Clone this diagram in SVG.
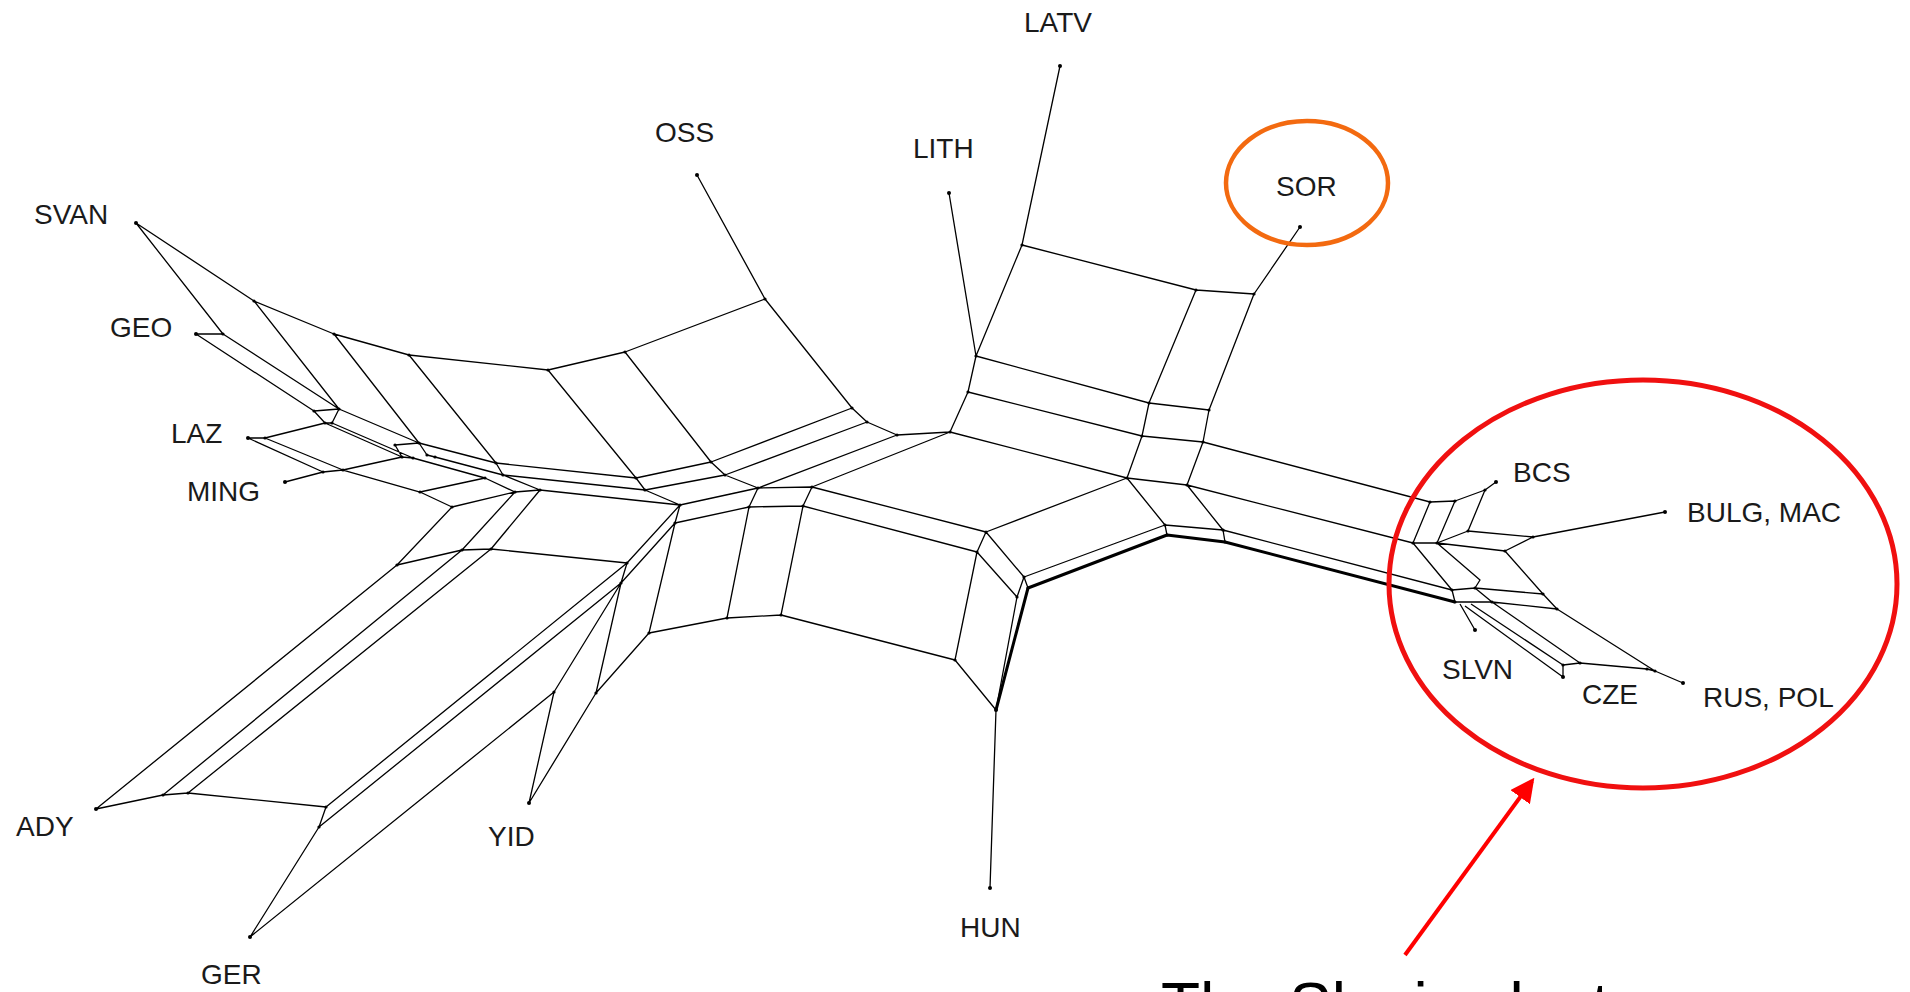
<svg xmlns="http://www.w3.org/2000/svg" width="1910" height="992" viewBox="0 0 1910 992">
<defs>
<style>
.e{fill:none;stroke:#000;stroke-width:1.3;stroke-linejoin:round}
.th{fill:none;stroke:#000;stroke-width:3;stroke-linejoin:round}
.lb{font-family:"Liberation Sans",Arial,sans-serif;font-size:28px;fill:#1a1a1a}
.d{fill:#000}
</style>
<marker id="ah" markerWidth="6" markerHeight="6" refX="5" refY="3" orient="auto" markerUnits="strokeWidth">
<path d="M0 0L6 3L0 6Z" fill="#ff0000"/>
</marker>
</defs>
<rect width="1910" height="992" fill="#fff"/>
<g id="connectors">
<path class="e" d="M136 223L254 301L334 334L409 355L548 370L625 352L765 299L697 175
M136 223L223 334M196 334L223 334
M254 301L339 409M223 334L339 409M196 334L314 411L339 409
M314 411L325 423L332 423L339 409
M334 334L419 443M339 409L419 443
M248 438L265 438L325 423L402 457L413 458L332 423
M395 445L419 443L427 455L435 457M395 445L402 457
M248 438L323 472M265 438L343 470M285 482L323 472L343 470
M343 470L402 457M343 470L420 492L452 507
M409 355L496 463M419 443L496 463L503 475M435 457L503 475
M413 458L485 478L515 492M420 492L485 478M452 507L515 492L540 490M503 475L540 490
M548 370L636 478M496 463L636 478L645 490M503 475L645 490
M625 352L711 462M636 478L711 462L725 475M645 490L725 475
M765 299L852 408M711 462L852 408L867 422M725 475L867 422
M540 490L680 505M645 490L680 505L758 488M725 475L758 488M758 488L897 435M867 422L897 435L950 432M758 488L812 487L950 432
M680 505L675 523L749 507L803 506L977 552M758 488L749 507M812 487L803 506M812 487L986 532L977 552M950 432L1127 478L986 532
M452 507L397 565M515 492L462 550M540 490L491 549M680 505L627 563M675 523L621 583
M397 565L462 550L491 549L627 563L621 583
M96 809L397 565M163 795L462 550M188 793L491 549M326 807L627 563M319 827L621 583
M96 809L163 795L188 793L326 807L319 827L250 937L554 692L621 583L596 693L529 803L554 692
M596 693L649 633L675 523
M749 507L727 618M803 506L781 615M977 552L955 660
M649 633L727 618L781 615L955 660L996 710
M977 552L1017 597L996 710M986 532L1024 577L1017 597M1024 577L1165 525M1127 478L1165 525
M996 710L990 888
M950 432L968 392L976 356L949 193M976 356L1022 245L1060 66
M1022 245L1196 290L1254 294L1300 227M1196 290L1149 403M1254 294L1209 410
M976 356L1149 403L1209 410M968 392L1142 436L1203 442M1149 403L1142 436M1209 410L1203 442
M1142 436L1127 478L1187 485M1203 442L1187 485L1223 530M1165 525L1223 530M1165 525L1167 535M1223 530L1225 542
M1203 442L1430 502M1187 485L1413 543M1223 530L1452 590
M1024 577L1028 588
M1430 502L1455 501L1485 490L1496 482
M1430 502L1413 543L1437 543L1468 531L1485 490M1455 501L1437 543
M1468 531L1533 537L1665 512M1437 543L1505 551L1533 537
M1413 543L1452 590L1475 588L1543 594L1505 551M1437 543L1480 580L1475 588
M1452 590L1455 602M1475 588L1492 602M1543 594L1557 609
M1455 602L1492 602L1557 609L1655 671L1683 683
M1492 602L1580 663M1471 604L1563 665M1465 606L1563 677M1563 665L1563 677M1563 665L1580 663L1647 669L1655 671
M1460 604L1475 630"/>
<path class="th" d="M1455 602L1225 542L1167 535L1028 588L996 710"/>
<g class="d">
<circle cx="254" cy="301" r="1.6"/><circle cx="334" cy="334" r="1.6"/><circle cx="409" cy="355" r="1.6"/><circle cx="548" cy="370" r="1.6"/><circle cx="625" cy="352" r="1.6"/><circle cx="765" cy="299" r="1.6"/>
<circle cx="223" cy="334" r="1.6"/><circle cx="314" cy="411" r="1.6"/><circle cx="339" cy="409" r="1.6"/><circle cx="325" cy="423" r="1.6"/><circle cx="332" cy="423" r="1.6"/>
<circle cx="265" cy="438" r="1.6"/><circle cx="323" cy="472" r="1.6"/><circle cx="343" cy="470" r="1.6"/>
<circle cx="395" cy="445" r="1.6"/><circle cx="419" cy="443" r="1.6"/><circle cx="427" cy="455" r="1.6"/><circle cx="402" cy="457" r="1.6"/><circle cx="413" cy="458" r="1.6"/><circle cx="435" cy="457" r="1.6"/>
<circle cx="420" cy="492" r="1.6"/><circle cx="452" cy="507" r="1.6"/><circle cx="496" cy="463" r="1.6"/><circle cx="503" cy="475" r="1.6"/><circle cx="485" cy="478" r="1.6"/><circle cx="515" cy="492" r="1.6"/><circle cx="540" cy="490" r="1.6"/>
<circle cx="636" cy="478" r="1.6"/><circle cx="645" cy="490" r="1.6"/><circle cx="711" cy="462" r="1.6"/><circle cx="725" cy="475" r="1.6"/><circle cx="852" cy="408" r="1.6"/><circle cx="867" cy="422" r="1.6"/>
<circle cx="680" cy="505" r="1.6"/><circle cx="758" cy="488" r="1.6"/><circle cx="897" cy="435" r="1.6"/><circle cx="812" cy="487" r="1.6"/><circle cx="950" cy="432" r="1.6"/>
<circle cx="675" cy="523" r="1.6"/><circle cx="749" cy="507" r="1.6"/><circle cx="803" cy="506" r="1.6"/><circle cx="986" cy="532" r="1.6"/><circle cx="977" cy="552" r="1.6"/>
<circle cx="649" cy="633" r="1.6"/><circle cx="727" cy="618" r="1.6"/><circle cx="781" cy="615" r="1.6"/><circle cx="955" cy="660" r="1.6"/>
<circle cx="1024" cy="577" r="1.6"/><circle cx="1028" cy="588" r="1.6"/><circle cx="1017" cy="597" r="1.6"/><circle cx="996" cy="710" r="2"/>
<circle cx="968" cy="392" r="1.6"/><circle cx="976" cy="356" r="1.6"/><circle cx="1022" cy="245" r="1.6"/><circle cx="1196" cy="290" r="1.6"/><circle cx="1254" cy="294" r="1.6"/>
<circle cx="1149" cy="403" r="1.6"/><circle cx="1209" cy="410" r="1.6"/><circle cx="1142" cy="436" r="1.6"/><circle cx="1203" cy="442" r="1.6"/><circle cx="1127" cy="478" r="1.6"/><circle cx="1187" cy="485" r="1.6"/>
<circle cx="1165" cy="525" r="1.6"/><circle cx="1223" cy="530" r="1.6"/><circle cx="1167" cy="535" r="1.6"/><circle cx="1225" cy="542" r="1.6"/>
<circle cx="163" cy="795" r="1.6"/><circle cx="188" cy="793" r="1.6"/><circle cx="326" cy="807" r="1.6"/><circle cx="319" cy="827" r="1.6"/>
<circle cx="397" cy="565" r="1.6"/><circle cx="462" cy="550" r="1.6"/><circle cx="491" cy="549" r="1.6"/><circle cx="627" cy="563" r="1.6"/><circle cx="621" cy="583" r="1.6"/>
<circle cx="554" cy="692" r="1.6"/><circle cx="596" cy="693" r="1.6"/>
<circle cx="1430" cy="502" r="1.6"/><circle cx="1455" cy="501" r="1.6"/><circle cx="1485" cy="490" r="1.6"/><circle cx="1413" cy="543" r="1.6"/><circle cx="1437" cy="543" r="1.6"/><circle cx="1468" cy="531" r="1.6"/>
<circle cx="1533" cy="537" r="1.6"/><circle cx="1505" cy="551" r="1.6"/><circle cx="1452" cy="590" r="1.6"/><circle cx="1475" cy="588" r="1.6"/><circle cx="1543" cy="594" r="1.6"/>
<circle cx="1455" cy="602" r="1.6"/><circle cx="1492" cy="602" r="1.6"/><circle cx="1557" cy="609" r="1.6"/><circle cx="1563" cy="665" r="1.6"/><circle cx="1580" cy="663" r="1.6"/><circle cx="1647" cy="669" r="1.6"/><circle cx="1655" cy="671" r="1.6"/>
</g>
</g>
<g id="node-svan"><circle class="d" cx="136" cy="223" r="2"/><text class="lb" x="34" y="224">SVAN</text></g>
<g id="node-geo"><circle class="d" cx="196" cy="334" r="2"/><text class="lb" x="110" y="337">GEO</text></g>
<g id="node-laz"><circle class="d" cx="248" cy="438" r="2"/><text class="lb" x="171" y="443">LAZ</text></g>
<g id="node-ming"><circle class="d" cx="285" cy="482" r="2"/><text class="lb" x="187" y="501">MING</text></g>
<g id="node-ady"><circle class="d" cx="96" cy="809" r="2"/><text class="lb" x="16" y="836">ADY</text></g>
<g id="node-ger"><circle class="d" cx="250" cy="937" r="2"/><text class="lb" x="201" y="984">GER</text></g>
<g id="node-yid"><circle class="d" cx="529" cy="803" r="2"/><text class="lb" x="488" y="846">YID</text></g>
<g id="node-hun"><circle class="d" cx="990" cy="888" r="2"/><text class="lb" x="960" y="937">HUN</text></g>
<g id="node-oss"><circle class="d" cx="697" cy="175" r="2"/><text class="lb" x="655" y="142">OSS</text></g>
<g id="node-lith"><circle class="d" cx="949" cy="193" r="2"/><text class="lb" x="913" y="158">LITH</text></g>
<g id="node-latv"><circle class="d" cx="1060" cy="66" r="2"/><text class="lb" x="1024" y="32">LATV</text></g>
<g id="node-sor"><circle class="d" cx="1300" cy="227" r="2"/><text class="lb" x="1276" y="196">SOR</text></g>
<g id="node-bcs"><circle class="d" cx="1496" cy="482" r="2"/><text class="lb" x="1513" y="482">BCS</text></g>
<g id="node-bulg"><circle class="d" cx="1665" cy="512" r="2"/><text class="lb" x="1687" y="522">BULG, MAC</text></g>
<g id="node-slvn"><circle class="d" cx="1475" cy="630" r="2"/><text class="lb" x="1442" y="679">SLVN</text></g>
<g id="node-cze"><circle class="d" cx="1563" cy="677" r="2"/><text class="lb" x="1582" y="704">CZE</text></g>
<g id="node-rus"><circle class="d" cx="1683" cy="683" r="2"/><text class="lb" x="1703" y="707">RUS, POL</text></g>
<g id="highlight-sor"><ellipse cx="1307" cy="183" rx="81" ry="62" fill="none" stroke="#f36a10" stroke-width="4.5"/></g>
<g id="highlight-slavic"><ellipse cx="1643" cy="584" rx="254" ry="204" fill="none" stroke="#f01010" stroke-width="5"/></g>
<g id="annotation">
<line x1="1405" y1="955" x2="1532" y2="781" stroke="#ff0000" stroke-width="4" marker-end="url(#ah)"/>
<text x="1161" y="1028" font-family="'Liberation Sans',Arial,sans-serif" font-size="64" fill="#000">The Slavic cluster</text>
</g>
</svg>
